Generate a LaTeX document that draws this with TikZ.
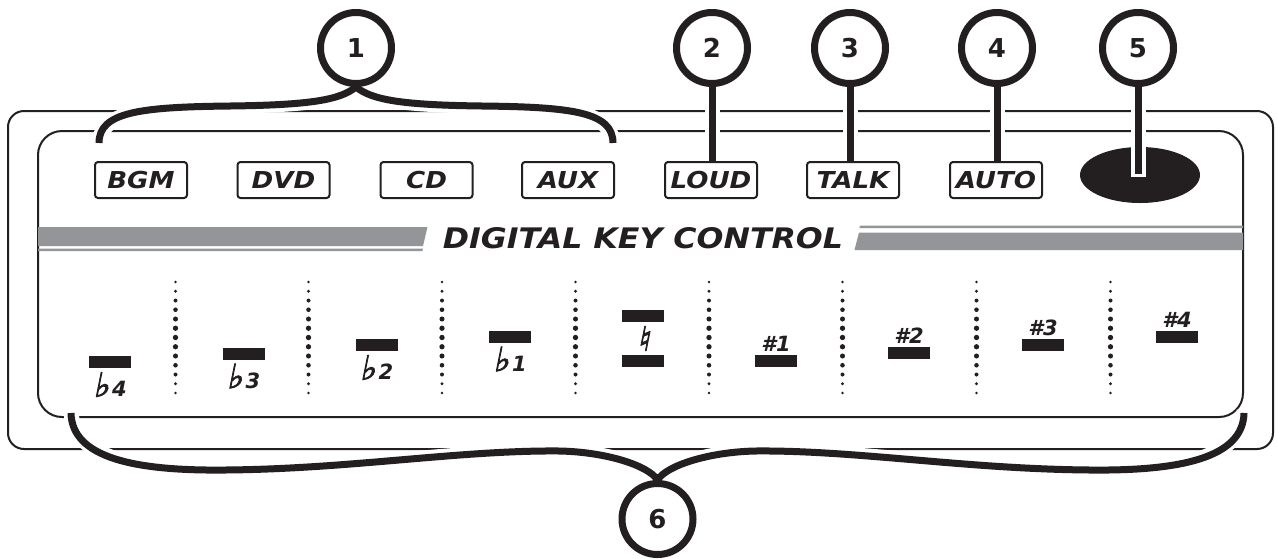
\documentclass[tikz,border=0pt]{standalone}
\usepackage{graphicx}
\usepackage{fontspec}
\setmainfont{DejaVu Sans}[BoldFont={DejaVu Sans Bold},ItalicFont={DejaVu Sans Oblique},BoldItalicFont={DejaVu Sans Bold Oblique}]
\newfontfamily\musicfont{DejaVu Sans}[FakeBold=2.5,FakeSlant=0.2]
\usepackage{tikz}
\usetikzlibrary{shapes.geometric}

\definecolor{ink}{HTML}{231F20}
\definecolor{stripe}{HTML}{939598}

\pgfdeclarelayer{back}
\pgfdeclarelayer{mid}
\pgfsetlayers{back,mid,main}

% one dotted divider, dots grow towards the middle
\newcommand{\dotcol}[1]{%
  \foreach \i in {0,...,12}{\fill[ink] (#1,{282+9.25*\i}) circle[radius={1.3+1.4*sin(15*\i)}];}}
\newcommand{\keytxt}[1]{\scalebox{1.12}[1]{#1}}
\newcommand{\flatsign}{{\musicfont\scalebox{1.6}{♭}}\kern3pt}
\newcommand{\natsign}{{\musicfont\scalebox{1.6}{♮}}}

\begin{document}
\begin{tikzpicture}[x=1pt, y=-1pt,
    frame/.style={draw=ink, line width=2pt},
    key/.style={draw=ink, line width=2pt, rounded corners=3pt, minimum width=92pt,
      minimum height=36pt, inner sep=0pt, text=ink,
      font=\fontsize{23.3}{24}\selectfont\bfseries\itshape},
    ring/.style={circle, draw=ink, line width=7pt, minimum size=71pt, inner sep=0pt,
      text=ink, font=\fontsize{26}{26}\selectfont\bfseries},
    lead/.style={draw=ink, line width=7pt, line join=round,
      preaction={draw=white, line width=15pt, shorten <=-3pt, shorten >=-3pt}},
    bar/.style={fill=ink},
    tone/.style={inner sep=0pt, text=ink, font=\fontsize{21}{21}\selectfont\bfseries\itshape}]
    \useasboundingbox (0,0) rectangle (1277,558);

    % Panel outline and header stripes
    \begin{pgfonlayer}{back}
    \draw[frame, rounded corners=16pt] (8,111) rectangle (1273,449);
    \draw[frame, rounded corners=24pt] (38,131) rectangle (1243,417);
    \fill[stripe] (38,227) -- (427.5,227) -- (423,246) -- (38,246) -- cycle;
    \fill[stripe] (38,248.5) -- (423,248.5) -- (422.4,251) -- (38,251) -- cycle;
    \fill[stripe] (860,225.5) -- (1243,225.5) -- (1243,228) -- (859.4,228) -- cycle;
    \fill[stripe] (859,232.5) -- (1243,232.5) -- (1243,250) -- (854.5,250) -- cycle;
    \node[ellipse, fill=ink, minimum width=120pt, minimum height=56pt, inner sep=0pt] (knob) at (1140,175) {};
    \end{pgfonlayer}

    \node[inner sep=0pt, text=ink, font=\bfseries\itshape] (title) at (643,238.5)
      {\resizebox{400pt}{21pt}{DIGITAL KEY CONTROL}};

    % Source and mode keys
    \node[key] (bgm) at (141,180) {\keytxt{BGM}};
    \node[key] (dvd) at (283.5,180) {\keytxt{DVD}};
    \node[key] (cd) at (426.5,180) {\keytxt{CD}};
    \node[key] (aux) at (568,180) {\keytxt{AUX}};
    \node[key] (loud) at (711,180) {\keytxt{LOUD}};
    \node[key] (talk) at (853,180) {\keytxt{TALK}};
    \node[key] (auto) at (996,180) {\keytxt{AUTO}};

    % Callout numbers
    \node[ring] (c1) at (356,48) {1};
    \node[ring] (c2) at (712,48) {2};
    \node[ring] (c3) at (850,48) {3};
    \node[ring] (c4) at (997,48) {4};
    \node[ring] (c5) at (1138,48) {5};
    \node[ring] (c6) at (657.5,519) {6};

    % Key bars
    \fill[bar] (89,356) rectangle +(42,12);
    \node[tone, anchor=north] (f4) at (110,372) {\flatsign4};
    \fill[bar] (222.5,347.5) rectangle +(42,12);
    \node[tone, anchor=north] (f3) at (243.5,363.5) {\flatsign3};
    \fill[bar] (355.5,339) rectangle +(42,12);
    \node[tone, anchor=north] (f2) at (376.5,355) {\flatsign2};
    \fill[bar] (489,330.5) rectangle +(42,12);
    \node[tone, anchor=north] (f1) at (510,346.5) {\flatsign1};
    \fill[bar] (622,310) rectangle +(42,12);
    \fill[bar] (622,355) rectangle +(42,12);
    \node[tone] (n0) at (643,338.5) {\natsign};
    \fill[bar] (755,355) rectangle +(42,12);
    \node[tone, anchor=south] (s1) at (776,352) {\#1};
    \fill[bar] (888,347) rectangle +(42,12);
    \node[tone, anchor=south] (s2) at (909,344) {\#2};
    \fill[bar] (1022,339) rectangle +(42,12);
    \node[tone, anchor=south] (s3) at (1043,336) {\#3};
    \fill[bar] (1156,331) rectangle +(42,12);
    \node[tone, anchor=south] (s4) at (1177,328) {\#4};

    % Dotted dividers
    \dotcol{175.5}
    \dotcol{308.5}
    \dotcol{442}
    \dotcol{575.5}
    \dotcol{709}
    \dotcol{842.5}
    \dotcol{976.5}
    \dotcol{1110.5}

    % Leader lines and braces
    \coordinate (b1l) at (99,143);
    \coordinate (b1r) at (613,143);
    \coordinate (b6l) at (71,413);
    \coordinate (b6r) at (1244,413);
    \coordinate (k5) at (1138,174);
    \begin{pgfonlayer}{mid}
    \draw[lead] (c2.south) -- (c2.south |- loud.north);
    \draw[lead] (c3.south) -- (c3.south |- talk.north);
    \draw[lead] (c4.south) -- (c4.south |- auto.north);
    \draw[lead] (c5.south) -- (k5);
    \draw[lead] (b1l) .. controls (99,112) and (140,107) .. (230,106)
      .. controls (310,105) and (340,100) .. (c1.south)
      .. controls (372,100) and (402,105) .. (482,106)
      .. controls (572,107) and (613,112) .. (b1r);
    \draw[lead] (b6l) .. controls (72,458) and (135,471) .. (225,470)
      .. controls (350,469) and (460,450) .. (560,451)
      .. controls (605,452) and (648,465) .. (c6.north)
      .. controls (667,465) and (710,452) .. (755,451)
      .. controls (855,450) and (965,469) .. (1090,470)
      .. controls (1180,471) and (1243,458) .. (b6r);
    \end{pgfonlayer}
\end{tikzpicture}
\end{document}
